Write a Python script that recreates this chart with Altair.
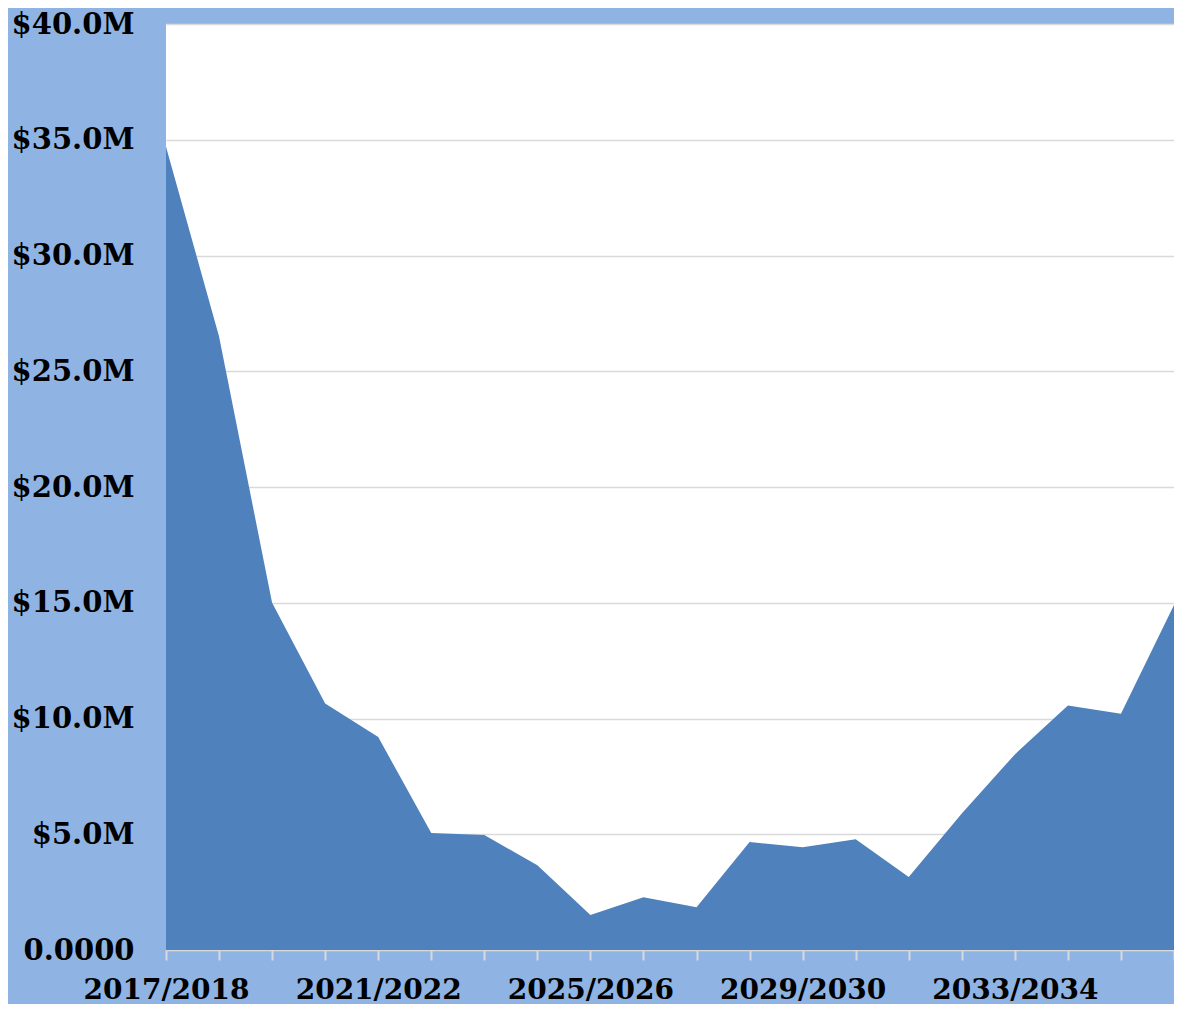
import altair as alt
import pandas as pd

years = [f"{y}/{y+1}" for y in range(2017, 2037)]
values_m = [34.7, 26.5, 15.0, 10.65, 9.2, 5.05, 4.97, 3.66, 1.51, 2.28,
            1.85, 4.66, 4.44, 4.78, 3.15, 5.9, 8.45, 10.56, 10.2, 14.9]

df = pd.DataFrame({"year": years, "value": [v * 1e6 for v in values_m]})

font = "DejaVu Serif"

chart = alt.Chart(df).mark_area(color="#4f81bd", opacity=1).encode(
    x=alt.X("year:O", sort=years, title=None,
            scale=alt.Scale(type="point", padding=0),
            axis=alt.Axis(labelAngle=0, labelOverlap=False,
                          labelExpr="toNumber(substring(datum.value,0,4)) % 4 == 1 ? datum.value : ''",
                          tickColor="#d9d9d9", tickSize=10, tickWidth=2,
                          domainColor="#d9d9d9", domainWidth=1,
                          labelFont=font, labelFontWeight="bold", labelFontSize=28,
                          labelColor="#000000", labelPadding=16, labelBaseline="top", grid=False)),
    y=alt.Y("value:Q", title=None,
            scale=alt.Scale(domain=[0, 40e6], nice=False),
            axis=alt.Axis(values=[0, 5e6, 10e6, 15e6, 20e6, 25e6, 30e6, 35e6, 40e6],
                          labelExpr="datum.value == 0 ? '0.0000' : '$' + format(datum.value/1e6, '.1f') + 'M'",
                          ticks=False, domain=False, grid=True,
                          gridColor="#d9d9d9", gridWidth=1.5,
                          labelFont=font, labelFontWeight="bold", labelFontSize=29,
                          labelColor="#000000", labelPadding=32, labelBaseline="middle")),
).properties(
    width=1008, height=926,
    background="#8fb4e3",
    padding={"left": 158, "top": 16, "right": 0, "bottom": 54},
    autosize=alt.AutoSizeParams(type="none"),
).configure_view(fill="#ffffff", stroke=None)

chart.save("out.html", embed_options={"renderer": "svg", "actions": False})
